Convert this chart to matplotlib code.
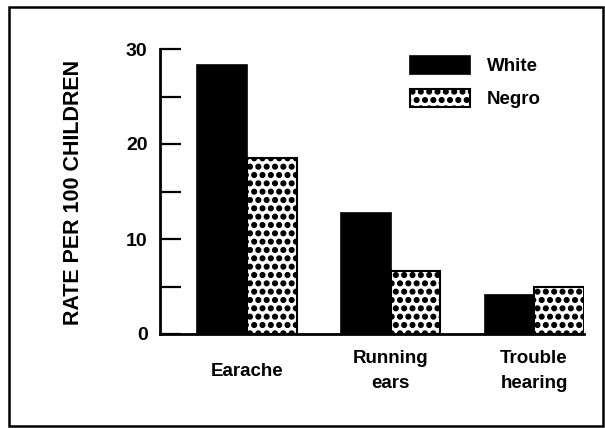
import matplotlib
matplotlib.use("Agg")
import matplotlib.pyplot as plt
import matplotlib.hatch as mhatch
from matplotlib.patches import Rectangle
import numpy as np

categories = ["Earache", "Running\nears", "Trouble\nhearing"]
white = [28.3, 12.7, 4.1]
negro = [18.5, 6.6, 5.0]
series_names = ["White", "Negro"]
yticks_major = [0, 10, 20, 30]
yticks_minor = [5, 15, 25]
ylabel = "RATE PER 100 CHILDREN"

# bigger solid dots for the '.' hatch
mhatch.SmallFilledCircles.size = 0.28

plt.rcParams['font.family'] = ['Liberation Sans', 'DejaVu Sans']
plt.rcParams['font.weight'] = 'bold'
plt.rcParams['hatch.linewidth'] = 1.0
plt.rcParams['hatch.color'] = 'black'

W, H = 605, 428
fig = plt.figure(figsize=(W / 100, H / 100), dpi=100)
ax = fig.add_axes([160 / W, (H - 334) / H, (584 - 160) / W, (334 - 49) / H])

x = np.arange(len(categories))
bw = 0.345
b1 = ax.bar(x - bw / 2, white, bw, color='black', edgecolor='black', linewidth=1.2)
b2 = ax.bar(x + bw / 2, negro, bw, color='white', edgecolor='black', linewidth=1.5, hatch='..')

ax.set_xlim(-0.606, 2.348)
ax.set_ylim(0, 30)

for s in ['top', 'right']:
    ax.spines[s].set_visible(False)
ax.spines['left'].set_linewidth(2.0)
ax.spines['bottom'].set_linewidth(2.0)

ax.set_yticks(yticks_major)
ax.set_yticks(yticks_minor, minor=True)
ax.tick_params(axis='y', which='both', direction='in', length=15, width=1.6, pad=9,
               labelsize=14)
ax.set_xticks([])

for lab in ax.get_yticklabels():
    lab.set_fontweight('bold')

for xi, cat in zip(x, categories):
    ax.text(xi, -0.13, cat, transform=ax.get_xaxis_transform(), ha='center', va='center',
            fontsize=13.5, fontweight='bold', linespacing=1.6)

fig.text(74 / W, 1 - 192 / H, ylabel, rotation=90, ha='center', va='center',
         fontsize=15.5, fontweight='bold')

leg = ax.legend([b1, b2], series_names, loc='upper left',
                bbox_to_anchor=(410 / W, 1 - 56 / H), bbox_transform=fig.transFigure,
                frameon=False, borderpad=0, borderaxespad=0, fontsize=13.5,
                handlelength=3.2, handleheight=1.1, handletextpad=0.9, labelspacing=0.7)
for t in leg.get_texts():
    t.set_fontweight('bold')

fig.patches.append(Rectangle((9 / W, 2 / H), (603 - 9) / W, (426 - 7) / H,
                             transform=fig.transFigure, fill=False, edgecolor='black',
                             linewidth=1.8))

fig.savefig('out.png', dpi=100)
